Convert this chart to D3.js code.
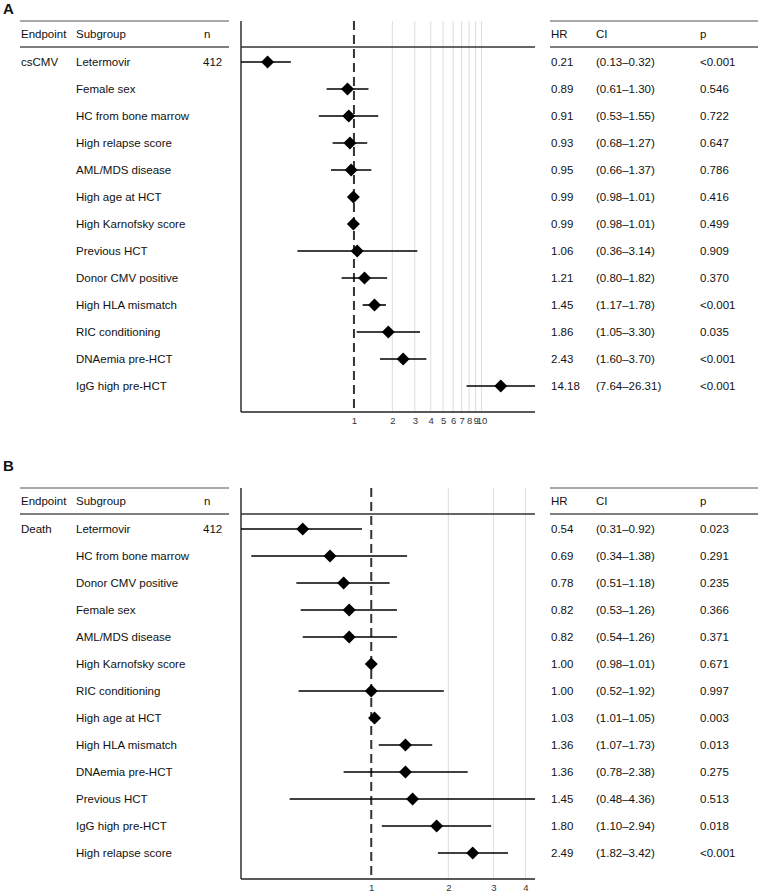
<!DOCTYPE html>
<html>
<head>
<meta charset="utf-8">
<script src="https://cdn.jsdelivr.net/npm/d3@7"></script>
<style>
  body { margin: 0; background: #fff; }
  svg text { font-family: "Liberation Sans", Arial, sans-serif; fill: #111; }
</style>
</head>
<body>
<svg id="chart"></svg>
<script>
// panel A: csCMV
let subgroupsA = ["Letermovir", "Female sex", "HC from bone marrow", "High relapse score", "AML/MDS disease",
    "High age at HCT", "High Karnofsky score", "Previous HCT", "Donor CMV positive", "High HLA mismatch",
    "RIC conditioning", "DNAemia pre-HCT", "IgG high pre-HCT"];
let hrA = [0.21, 0.89, 0.91, 0.93, 0.95, 0.99, 0.99, 1.06, 1.21, 1.45, 1.86, 2.43, 14.18];
let loA = [0.13, 0.61, 0.53, 0.68, 0.66, 0.98, 0.98, 0.36, 0.80, 1.17, 1.05, 1.60, 7.64];
let hiA = [0.32, 1.30, 1.55, 1.27, 1.37, 1.01, 1.01, 3.14, 1.82, 1.78, 3.30, 3.70, 26.31];
let pA = ["<0.001", "0.546", "0.722", "0.647", "0.786", "0.416", "0.499", "0.909", "0.370", "<0.001", "0.035", "<0.001", "<0.001"];
let ticksA = [1, 2, 3, 4, 5, 6, 7, 8, 9, 10];

// panel B: death
let subgroupsB = ["Letermovir", "HC from bone marrow", "Donor CMV positive", "Female sex", "AML/MDS disease",
    "High Karnofsky score", "RIC conditioning", "High age at HCT", "High HLA mismatch", "DNAemia pre-HCT",
    "Previous HCT", "IgG high pre-HCT", "High relapse score"];
let hrB = [0.54, 0.69, 0.78, 0.82, 0.82, 1.00, 1.00, 1.03, 1.36, 1.36, 1.45, 1.80, 2.49];
let loB = [0.31, 0.34, 0.51, 0.53, 0.54, 0.98, 0.52, 1.01, 1.07, 0.78, 0.48, 1.10, 1.82];
let hiB = [0.92, 1.38, 1.18, 1.26, 1.26, 1.01, 1.92, 1.05, 1.73, 2.38, 4.36, 2.94, 3.42];
let pB = ["0.023", "0.291", "0.235", "0.366", "0.371", "0.671", "0.997", "0.003", "0.013", "0.275", "0.513", "0.018", "<0.001"];
let ticksB = [1, 2, 3, 4];

let svg = d3.select("#chart").attr("width", 760).attr("height", 894);

function drawPanel(opt) {
    let g = svg.append("g").attr("transform", `translate(0,${opt.top})`);
    let rowH = 27;
    let headY = 13, lineTop = 0, lineHead = 26, firstRow = 41;
    let n = opt.subgroups.length;
    let axisY = firstRow + (n - 1) * rowH + 26;
    let idx = opt.subgroups.map((s, i) => i);

    g.append("text").attr("x", 3).attr("y", opt.labelY).attr("dy", "0.35em")
        .style("font-size", "15px").style("font-weight", "bold").text(opt.label);

    let x = d3.scaleLog().domain(opt.domain).range([241, 535]);
    let y = i => firstRow + i * rowH;

    // table rules
    [[20, 229], [550, 758]].forEach(r => {
        g.append("line").attr("x1", r[0]).attr("x2", r[1]).attr("y1", lineTop).attr("y2", lineTop)
            .attr("stroke", "#555").attr("stroke-width", 1.2);
        g.append("line").attr("x1", r[0]).attr("x2", r[1]).attr("y1", lineHead).attr("y2", lineHead)
            .attr("stroke", "#555").attr("stroke-width", 1.6);
    });

    let fs = "11.5px";
    let heads = [["Endpoint", 21], ["Subgroup", 76], ["n", 204], ["HR", 551], ["CI", 596], ["p", 700]];
    g.selectAll("text.head").data(heads).enter().append("text").attr("class", "head")
        .attr("x", d => d[1]).attr("y", headY).attr("dy", "0.35em")
        .style("font-size", fs).text(d => d[0]);

    g.append("text").attr("x", 21).attr("y", y(0)).attr("dy", "0.35em").style("font-size", fs).text(opt.endpoint);
    g.append("text").attr("x", 203).attr("y", y(0)).attr("dy", "0.35em").style("font-size", fs).text("412");

    let rows = g.selectAll("g.row").data(idx).enter().append("g").attr("class", "row");
    rows.append("text").attr("x", 76).attr("y", y).attr("dy", "0.35em").style("font-size", fs)
        .text(i => opt.subgroups[i]);
    rows.append("text").attr("x", 551).attr("y", y).attr("dy", "0.35em").style("font-size", fs)
        .text(i => opt.hr[i].toFixed(2));
    rows.append("text").attr("x", 596).attr("y", y).attr("dy", "0.35em").style("font-size", fs)
        .text(i => "(" + opt.lo[i].toFixed(2) + "\u2013" + opt.hi[i].toFixed(2) + ")");
    rows.append("text").attr("x", 700).attr("y", y).attr("dy", "0.35em").style("font-size", fs)
        .text(i => opt.p[i]);

    // grid lines
    g.selectAll("line.grid").data(opt.ticks.filter(t => t !== 1)).enter().append("line")
        .attr("x1", d => x(d)).attr("x2", d => x(d)).attr("y1", lineTop).attr("y2", axisY)
        .attr("stroke", "#dcdcdc").attr("stroke-width", 1);

    // frame of plot
    g.append("line").attr("x1", 241).attr("x2", 241).attr("y1", lineTop).attr("y2", axisY)
        .attr("stroke", "#222").attr("stroke-width", 1.4);
    g.append("line").attr("x1", 241).attr("x2", 535).attr("y1", lineHead).attr("y2", lineHead)
        .attr("stroke", "#333").attr("stroke-width", 1.4);

    let axis = d3.axisBottom(x).tickValues(opt.ticks).tickFormat(d3.format("d")).tickSize(0).tickPadding(5);
    let ax = g.append("g").attr("transform", `translate(0,${axisY})`).call(axis);
    ax.select(".domain").attr("stroke", "#222").attr("stroke-width", 1.4).attr("d", "M241,0H535");
    ax.selectAll(".tick text").style("font-size", "9.5px").style("fill", "#333")
        .style("font-family", "'Liberation Sans', Arial, sans-serif");

    // reference line at HR = 1
    g.append("line").attr("x1", x(1)).attr("x2", x(1)).attr("y1", lineTop).attr("y2", axisY)
        .attr("stroke", "#333").attr("stroke-width", 2).attr("stroke-dasharray", "9,5");

    // CI whiskers and diamonds, on top of grid
    let marks = g.append("g");
    marks.selectAll("line").data(idx).enter().append("line")
        .attr("x1", i => x(opt.lo[i])).attr("x2", i => x(opt.hi[i]))
        .attr("y1", y).attr("y2", y).attr("stroke", "#000").attr("stroke-width", 1.6);
    marks.selectAll("path").data(idx).enter().append("path")
        .attr("transform", i => `translate(${x(opt.hr[i])},${y(i)})`)
        .attr("d", "M0,-6.5L6.5,0L0,6.5L-6.5,0Z").attr("fill", "#000");
}

drawPanel({ top: 21, label: "A", labelY: -12, endpoint: "csCMV", subgroups: subgroupsA,
    hr: hrA, lo: loA, hi: hiA, p: pA, ticks: ticksA, domain: [0.13, 26.31] });
drawPanel({ top: 488, label: "B", labelY: -22, endpoint: "Death", subgroups: subgroupsB,
    hr: hrB, lo: loB, hi: hiB, p: pB, ticks: ticksB, domain: [0.31, 4.36] });
</script>
</body>
</html>
